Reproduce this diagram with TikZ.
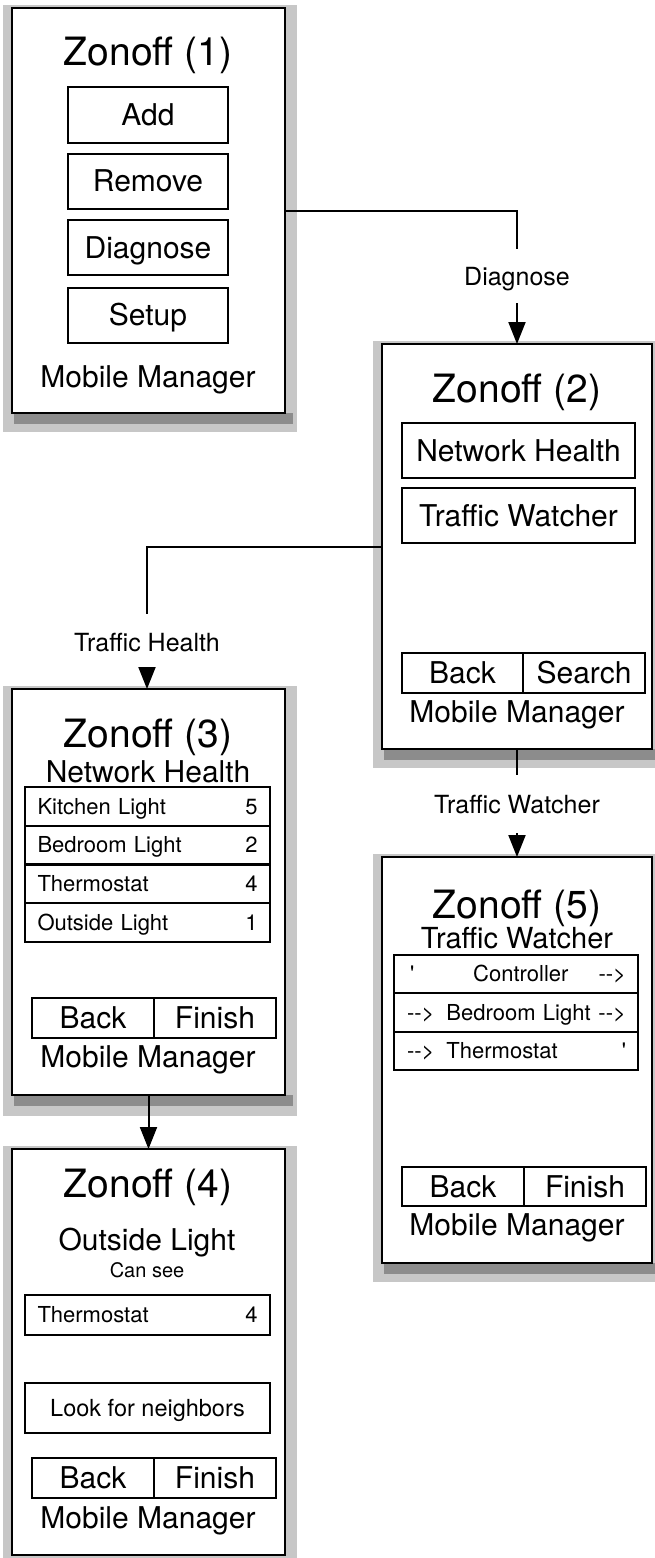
\documentclass[tikz,border=0pt]{standalone}
\usepackage{fontspec}
\setmainfont{TeX Gyre Heros}
\usetikzlibrary{arrows.meta}
\newcommand\arrw{-\kern0pt-\kern0pt>}
\begin{document}
\begin{tikzpicture}[x=1pt, y=-1pt,
  screen/.style={draw, line width=2pt, fill=white, inner sep=0pt, outer sep=0pt},
  halo/.style={fill=black!22},
  band/.style={fill=black!45},
  btn/.style={draw, line width=2pt, inner sep=0pt, outer sep=0pt, font=\fontsize{30}{36}\selectfont, text height=21.5pt, text depth=0pt},
  ttl/.style={anchor=base, inner sep=0pt, font=\fontsize{39}{47}\selectfont},
  mm/.style={anchor=base, inner sep=0pt, font=\fontsize{30}{36}\selectfont},
  small/.style={anchor=base, inner sep=0pt, font=\fontsize{20}{24}\selectfont},
  row/.style={draw, line width=2pt, inner sep=0pt, outer sep=0pt, minimum width=245pt, minimum height=39pt, font=\fontsize{22}{26}\selectfont, text width=220pt, text height=15.75pt, text depth=0pt},
  lbl/.style={anchor=base, font=\fontsize{25}{30}\selectfont, text height=18pt, text depth=0pt, inner xsep=2pt},
  wire/.style={line width=2pt},
  arr/.style={line width=2pt, -{Triangle[length=22pt,width=17pt]}}
]
\useasboundingbox (0,0) rectangle (654,1558);
\fill[white] (0,0) rectangle (654,1558);

% shadows
\fill[halo] (3,5) rectangle (297,432);
\fill[band] (14,413) rectangle (293,424);
\fill[halo] (373,341) rectangle (660,768);
\fill[band] (384,749) rectangle (660,760);
\fill[halo] (3,686) rectangle (297,1116);
\fill[band] (14,1095) rectangle (293,1106);
\fill[halo] (3,1146) rectangle (297,1570);
\fill[halo] (373,854) rectangle (660,1282);
\fill[band] (384,1263) rectangle (660,1274);

% screens
\node[screen, minimum width=273pt, minimum height=405pt] (s1) at (148.5,210.5) {};
\node[screen, minimum width=270pt, minimum height=405pt] (s2) at (517,546.5) {};
\node[screen, minimum width=273pt, minimum height=406pt] (s3) at (148.5,892) {};
\node[screen, minimum width=273pt, minimum height=406pt] (s4) at (148.5,1352) {};
\node[screen, minimum width=270pt, minimum height=406pt] (s5) at (517,1060) {};

% screen 1
\node[ttl] (t1) at (148,65) {Zonoff (1)};
\node[btn, minimum width=160pt, minimum height=56pt] (add) at (148,115) {Add};
\node[btn, minimum width=160pt, minimum height=55pt] (rem) at (148,181) {Remove};
\node[btn, minimum width=160pt, minimum height=55pt] (dia) at (148,247.5) {Diagnose};
\node[btn, minimum width=160pt, minimum height=55pt] (set) at (148,315) {Setup};
\node[mm] (m1) at (148,387) {Mobile Manager};

% screen 2
\node[ttl] (t2) at (517,402) {Zonoff (2)};
\node[btn, minimum width=233pt, minimum height=55pt] (nh2) at (518.5,450.5) {Network Health};
\node[btn, minimum width=233pt, minimum height=55pt] (tw2) at (518.5,515.5) {Traffic Watcher};
\node[btn, minimum width=121pt, minimum height=40pt] (bk2) at (462.5,673) {Back};
\node[btn, minimum width=122pt, minimum height=40pt] (sr2) at (584,673) {Search};
\node[mm] (m2) at (517,722) {Mobile Manager};

% screen 3
\node[ttl] (t3) at (148,747) {Zonoff (3)};
\node[mm] (h3) at (148,782) {Network Health};
\node[row] (r31) at (147.5,806.5) {Kitchen Light\hfill 5};
\node[row] (r32) at (147.5,845) {Bedroom Light\hfill 2};
\node[row] (r33) at (147.5,883.5) {Thermostat\hfill 4};
\node[row] (r34) at (147.5,922.5) {Outside Light\hfill 1};
\node[btn, minimum width=122pt, minimum height=40pt] (bk3) at (93,1018) {Back};
\node[btn, minimum width=122pt, minimum height=40pt] (fn3) at (215,1018) {Finish};
\node[mm] (m3) at (148,1067) {Mobile Manager};

% screen 4
\node[ttl] (t4) at (148,1197) {Zonoff (4)};
\node[mm] (h4) at (147,1250) {Outside Light};
\node[small] (cs4) at (147,1277) {Can see};
\node[row, minimum height=40pt] (r41) at (147.5,1315) {Thermostat\hfill 4};
\node[btn, minimum width=245pt, minimum height=50pt, font=\fontsize{23.5}{28}\selectfont, text height=16.8pt] (lk4) at (147.5,1408) {Look for neighbors};
\node[btn, minimum width=122pt, minimum height=40pt] (bk4) at (93,1478) {Back};
\node[btn, minimum width=122pt, minimum height=40pt] (fn4) at (215,1478) {Finish};
\node[mm] (m4) at (148,1528) {Mobile Manager};

% screen 5
\node[ttl] (t5) at (517,918) {Zonoff (5)};
\node[mm, font=\fontsize{29}{34}\selectfont] (h5) at (517,948) {Traffic Watcher};
\node[row, minimum width=244pt, minimum height=38pt] (r51) at (516,974) {\hspace*{4pt}\textquotesingle\hspace*{59pt}Controller\hfill\arrw\hspace*{4pt}};
\node[row, minimum width=244pt, minimum height=39pt] (r52) at (516,1012.5) {\hspace*{1pt}\arrw\hspace*{12pt}Bedroom Light\hfill\arrw\hspace*{4pt}};
\node[row, minimum width=244pt, minimum height=38pt] (r53) at (516,1051) {\hspace*{1pt}\arrw\hspace*{12pt}Thermostat\hfill\textquotesingle\hspace*{1pt}};
\node[btn, minimum width=122pt, minimum height=39pt] (bk5) at (463,1186.5) {Back};
\node[btn, minimum width=122pt, minimum height=39pt] (fn5) at (585,1186.5) {Finish};
\node[mm] (m5) at (517,1235) {Mobile Manager};

% connector labels
\node[lbl, inner ysep=18pt] (l12) at (517,285) {Diagnose};
\node[lbl, inner ysep=19pt] (l23) at (147,651) {Traffic Health};
\node[lbl, inner ysep=20pt] (l25) at (517,813) {Traffic Watcher};

% connectors
\draw[wire] (s1.east) -| (l12.north);
\draw[arr] (l12.south) -- (s2.north);
\draw[wire] (s2.west) -| (l23.north);
\draw[arr] (l23.south) -- (l23.south |- s3.north);
\draw[wire] (s2.south) -- (l25.north);
\draw[arr] (l25.south) -- (s5.north);
\draw[arr] (s3.south) -- (s4.north);
\end{tikzpicture}
\end{document}
